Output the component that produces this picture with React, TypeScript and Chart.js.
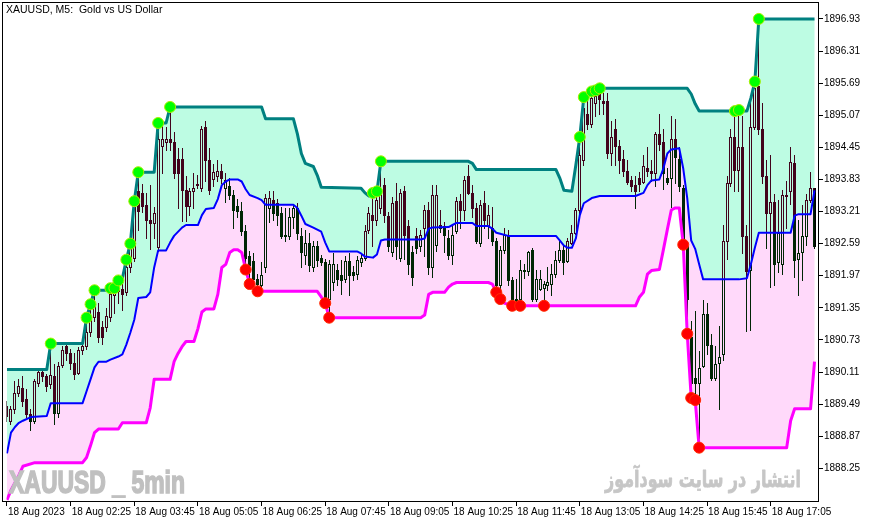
import React, { useEffect, useRef } from "react";
import { Chart, registerables } from "chart.js";

Chart.register(...registerables);

// ---------- data ----------
const candleOpen = [
  1889.46, 1889.17, 1889.40, 1889.70, 1889.80, 1889.59, 1889.30, 1889.17, 1889.90, 1890.12,
  1890.03, 1889.88, 1890.03, 1889.32, 1890.25, 1890.62, 1890.47, 1890.28, 1890.10, 1890.54,
  1890.62, 1890.89, 1891.18, 1891.27, 1890.98, 1890.98, 1891.18, 1891.60, 1891.68, 1891.71,
  1891.65, 1892.13, 1892.32, 1893.60, 1893.57, 1893.33, 1893.05, 1892.99, 1892.52, 1894.48,
  1894.55, 1894.62, 1894.55, 1894.23, 1894.23, 1893.62, 1893.32, 1893.60, 1893.74, 1893.66,
  1894.85, 1894.20, 1893.83, 1893.89, 1894.00, 1893.66, 1893.70, 1893.53, 1893.32, 1893.22,
  1892.84, 1892.36, 1892.26, 1891.90, 1891.79, 1892.13, 1893.28, 1893.43, 1893.37, 1893.18,
  1892.76, 1892.74, 1893.11, 1893.28, 1892.74, 1892.38, 1892.61, 1892.13, 1892.55, 1892.32,
  1892.23, 1891.52, 1891.84, 1892.09, 1891.99, 1891.90, 1892.26, 1892.04, 1892.00, 1892.23,
  1892.32, 1892.86, 1893.14, 1893.05, 1893.28, 1893.72, 1893.12, 1892.42, 1893.41, 1892.32,
  1893.60, 1892.93, 1892.42, 1892.74, 1892.55, 1892.90, 1893.24, 1892.13, 1892.57, 1892.95,
  1892.93, 1892.70, 1892.38, 1892.84, 1893.41, 1893.24, 1893.89, 1893.57, 1893.28, 1892.61,
  1893.37, 1892.93, 1892.90, 1892.65, 1891.79, 1892.46, 1892.76, 1891.88, 1891.50, 1891.52,
  1892.09, 1892.07, 1892.46, 1891.52, 1891.71, 1891.73, 1891.80, 1891.81, 1892.00, 1892.28,
  1892.46, 1892.26, 1892.61, 1892.80, 1893.24, 1894.20, 1895.10, 1894.90, 1895.30, 1895.50,
  1895.35, 1895.35, 1894.35, 1894.80, 1894.48, 1894.23, 1893.99, 1893.81, 1893.72, 1893.85,
  1893.79, 1894.05, 1893.99, 1893.95, 1894.71, 1894.55, 1893.85, 1893.85, 1894.62, 1894.23,
  1893.66, 1892.55, 1890.79, 1889.99, 1889.90, 1890.22, 1891.23, 1890.64, 1889.99, 1890.28,
  1890.45, 1892.65, 1893.76, 1894.65, 1894.01, 1894.46, 1892.74, 1892.09, 1894.85, 1895.63,
  1894.81, 1893.89, 1893.18, 1893.39, 1892.23, 1892.19, 1893.53, 1893.60, 1894.14, 1892.30,
  1892.42, 1892.74, 1893.43, 1893.66,
];
const candleHigh = [
  1889.55, 1889.46, 1889.93, 1889.97, 1890.03, 1889.78, 1889.40, 1889.97, 1890.16, 1890.16,
  1890.08, 1890.66, 1890.27, 1890.30, 1890.62, 1890.64, 1890.56, 1890.47, 1890.60, 1890.64,
  1891.16, 1891.42, 1891.69, 1891.45, 1891.10, 1891.35, 1891.73, 1891.73, 1891.88, 1891.85,
  1892.28, 1892.59, 1893.41, 1893.97, 1893.75, 1893.57, 1893.72, 1893.30, 1894.92, 1894.90,
  1894.85, 1895.23, 1894.75, 1894.43, 1894.43, 1893.90, 1893.66, 1893.95, 1893.91, 1894.87,
  1894.96, 1894.43, 1894.12, 1894.20, 1894.12, 1893.95, 1893.85, 1893.62, 1893.45, 1893.40,
  1892.95, 1892.45, 1892.40, 1892.00, 1892.23, 1893.55, 1893.60, 1893.60, 1893.45, 1893.30,
  1893.28, 1893.28, 1893.33, 1893.37, 1892.90, 1892.86, 1892.80, 1892.65, 1892.65, 1892.38,
  1892.30, 1892.28, 1892.40, 1892.20, 1892.28, 1892.35, 1892.40, 1892.15, 1892.35, 1892.40,
  1892.95, 1893.30, 1893.57, 1893.60, 1894.18, 1893.85, 1893.20, 1893.50, 1893.76, 1893.65,
  1893.70, 1893.05, 1892.55, 1892.90, 1892.85, 1893.33, 1893.40, 1893.72, 1893.72, 1893.24,
  1893.00, 1892.85, 1892.95, 1893.50, 1893.55, 1893.90, 1894.10, 1893.72, 1893.37, 1893.43,
  1893.60, 1893.33, 1893.30, 1892.70, 1892.55, 1892.90, 1892.85, 1891.95, 1891.90, 1892.28,
  1892.20, 1892.45, 1892.50, 1892.09, 1892.09, 1891.86, 1892.13, 1892.20, 1892.45, 1892.65,
  1892.57, 1892.70, 1892.95, 1893.28, 1894.65, 1895.42, 1895.45, 1895.53, 1895.55, 1895.59,
  1895.50, 1895.50, 1894.95, 1895.00, 1894.60, 1894.40, 1894.20, 1893.90, 1893.90, 1893.98,
  1894.30, 1894.45, 1894.20, 1894.75, 1895.10, 1894.80, 1894.05, 1895.05, 1895.00, 1894.45,
  1893.72, 1892.60, 1891.10, 1891.28, 1890.51, 1891.50, 1891.45, 1890.85, 1890.62, 1891.00,
  1892.95, 1893.90, 1894.80, 1895.15, 1895.17, 1895.05, 1892.95, 1895.40, 1895.72, 1896.93,
  1895.30, 1894.20, 1894.30, 1893.55, 1893.43, 1893.62, 1893.80, 1894.45, 1894.30, 1893.05,
  1893.33, 1893.55, 1893.98, 1893.66,
];
const candleLow = [
  1889.17, 1889.11, 1889.32, 1889.65, 1889.46, 1889.24, 1888.99, 1889.13, 1889.84, 1889.93,
  1889.74, 1889.80, 1889.11, 1889.24, 1890.20, 1890.35, 1890.16, 1889.97, 1890.08, 1890.45,
  1890.55, 1890.80, 1891.10, 1890.70, 1890.65, 1890.90, 1891.10, 1891.25, 1891.45, 1891.30,
  1891.60, 1892.05, 1892.25, 1892.85, 1893.20, 1892.70, 1892.48, 1892.70, 1892.45, 1893.95,
  1894.40, 1894.40, 1893.85, 1893.28, 1893.03, 1893.03, 1893.15, 1893.28, 1893.66, 1893.60,
  1893.80, 1893.55, 1893.70, 1893.80, 1893.76, 1893.40, 1893.45, 1892.90, 1893.10, 1892.75,
  1892.09, 1891.81, 1891.73, 1891.67, 1891.72, 1892.05, 1893.00, 1893.05, 1892.95, 1892.70,
  1892.64, 1892.68, 1892.90, 1892.68, 1892.13, 1892.19, 1892.07, 1892.07, 1892.15, 1892.17,
  1891.44, 1891.16, 1891.70, 1891.80, 1891.62, 1891.85, 1891.60, 1891.88, 1891.90, 1892.15,
  1892.28, 1892.80, 1892.55, 1892.95, 1893.18, 1893.00, 1892.45, 1892.35, 1892.30, 1892.25,
  1892.30, 1892.00, 1891.80, 1892.40, 1892.45, 1892.35, 1892.00, 1891.94, 1892.45, 1892.82,
  1892.42, 1892.30, 1892.20, 1892.80, 1892.90, 1893.05, 1893.55, 1893.10, 1892.60, 1892.55,
  1892.90, 1892.70, 1892.57, 1891.65, 1891.52, 1892.40, 1891.80, 1891.39, 1891.45, 1891.39,
  1891.93, 1891.99, 1891.48, 1891.48, 1891.70, 1891.39, 1891.70, 1891.60, 1891.95, 1892.24,
  1892.00, 1892.24, 1892.59, 1892.78, 1893.18, 1894.10, 1894.80, 1894.85, 1895.05, 1895.10,
  1895.10, 1894.25, 1894.10, 1894.10, 1893.95, 1893.90, 1893.75, 1893.60, 1893.28, 1893.60,
  1893.76, 1893.90, 1893.80, 1893.70, 1894.40, 1893.65, 1893.75, 1893.30, 1893.76, 1893.60,
  1892.57, 1890.85, 1889.61, 1889.57, 1888.65, 1890.20, 1890.45, 1889.95, 1889.95, 1889.40,
  1890.35, 1892.30, 1893.70, 1893.60, 1893.60, 1892.40, 1890.90, 1890.92, 1894.80, 1894.70,
  1893.76, 1892.50, 1891.75, 1891.80, 1892.05, 1892.00, 1892.90, 1893.35, 1891.95, 1891.60,
  1891.88, 1892.57, 1893.40, 1892.50,
];
const candleClose = [
  1889.26, 1889.40, 1889.70, 1889.84, 1889.55, 1889.30, 1889.17, 1889.93, 1890.12, 1890.03,
  1889.84, 1890.05, 1889.32, 1890.22, 1890.54, 1890.47, 1890.28, 1890.08, 1890.54, 1890.62,
  1890.89, 1891.20, 1891.40, 1890.79, 1890.79, 1891.20, 1891.62, 1891.68, 1891.72, 1891.62,
  1892.13, 1892.57, 1893.37, 1893.22, 1893.32, 1893.05, 1892.99, 1893.18, 1894.62, 1894.62,
  1894.62, 1894.55, 1893.95, 1893.95, 1893.62, 1893.32, 1893.60, 1893.66, 1893.72, 1894.81,
  1894.20, 1893.62, 1893.97, 1894.00, 1893.85, 1893.81, 1893.53, 1893.24, 1893.22, 1892.84,
  1892.32, 1892.17, 1891.90, 1891.81, 1891.98, 1893.47, 1893.47, 1893.18, 1893.14, 1892.74,
  1892.74, 1893.11, 1893.28, 1892.80, 1892.42, 1892.61, 1892.17, 1892.55, 1892.28, 1892.23,
  1891.50, 1892.19, 1892.19, 1891.90, 1891.88, 1892.26, 1891.99, 1891.98, 1892.28, 1892.32,
  1892.84, 1893.18, 1893.05, 1893.43, 1893.57, 1893.14, 1892.55, 1893.37, 1892.55, 1893.57,
  1892.76, 1892.19, 1891.94, 1892.51, 1892.76, 1893.24, 1892.13, 1893.53, 1893.53, 1892.90,
  1892.76, 1892.38, 1892.76, 1893.41, 1893.24, 1893.81, 1893.57, 1893.28, 1892.65, 1893.33,
  1893.05, 1893.14, 1892.65, 1891.79, 1892.46, 1892.76, 1891.88, 1891.50, 1891.52, 1892.09,
  1892.07, 1892.42, 1891.52, 1891.90, 1891.90, 1891.81, 1891.84, 1892.00, 1892.28, 1892.46,
  1892.23, 1892.65, 1892.80, 1893.24, 1894.30, 1895.20, 1894.90, 1895.40, 1895.45, 1895.38,
  1895.30, 1894.35, 1894.65, 1894.48, 1894.20, 1893.99, 1893.79, 1893.70, 1893.60, 1893.74,
  1894.08, 1893.99, 1893.95, 1894.71, 1894.52, 1893.95, 1893.79, 1894.62, 1894.27, 1893.70,
  1892.62, 1891.52, 1889.90, 1889.90, 1890.18, 1891.23, 1890.64, 1889.99, 1890.26, 1890.41,
  1892.65, 1893.76, 1894.65, 1894.01, 1894.46, 1892.74, 1892.07, 1894.85, 1895.60, 1894.81,
  1893.89, 1893.18, 1893.39, 1892.19, 1892.80, 1893.53, 1893.51, 1894.16, 1892.28, 1892.40,
  1892.74, 1893.43, 1893.66, 1892.55,
];

// channel lines: [bar index, price]
const upperLine = [
  [0, 1890.16], [10, 1890.16], [11, 1890.66], [19, 1890.66], [20, 1891.16], [21, 1891.42],
  [22, 1891.69], [25, 1891.69], [26, 1891.73], [27, 1891.73], [28, 1891.88], [29, 1891.92],
  [30, 1892.28], [31, 1892.59], [32, 1893.41], [33, 1893.97], [37, 1893.97], [38, 1894.92],
  [40, 1894.92], [41, 1895.23], [64, 1895.23], [65, 1895.0], [72, 1895.0], [73, 1894.71],
  [74, 1894.33], [75, 1894.14], [77, 1894.08], [78, 1893.91], [79, 1893.68], [89, 1893.66],
  [90, 1893.57], [91, 1893.51], [92, 1893.57], [93, 1893.6], [94, 1894.18], [116, 1894.18],
  [117, 1894.14], [118, 1894.02], [138, 1894.02], [139, 1893.85], [140, 1893.62], [142, 1893.6],
  [143, 1894.11], [144, 1894.65], [145, 1895.42], [146, 1895.48], [147, 1895.53], [148, 1895.55],
  [149, 1895.59], [171, 1895.59], [172, 1895.48], [173, 1895.29], [174, 1895.15], [186, 1895.15],
  [187, 1895.4], [188, 1895.72], [189, 1896.93], [203, 1896.93],
];
const middleLine = [
  [0, 1888.54], [1, 1888.94], [2, 1889.05], [3, 1889.13], [4, 1889.17], [6, 1889.24],
  [10, 1889.26], [11, 1889.51], [19, 1889.51], [20, 1889.74], [21, 1889.97], [22, 1890.2],
  [23, 1890.31], [25, 1890.31], [26, 1890.35], [28, 1890.41], [29, 1890.45], [30, 1890.64],
  [31, 1890.87], [32, 1891.12], [33, 1891.54], [35, 1891.56], [36, 1891.65], [37, 1892.13],
  [38, 1892.46], [40, 1892.46], [41, 1892.61], [42, 1892.74], [44, 1892.9], [45, 1892.95],
  [48, 1892.95], [49, 1893.14], [50, 1893.26], [52, 1893.28], [53, 1893.45], [54, 1893.72],
  [55, 1893.79], [56, 1893.83], [58, 1893.83], [59, 1893.79], [60, 1893.64], [61, 1893.53],
  [63, 1893.47], [64, 1893.43], [65, 1893.34], [72, 1893.34], [73, 1893.28], [74, 1893.13],
  [75, 1892.97], [77, 1892.9], [79, 1892.82], [80, 1892.61], [81, 1892.44], [88, 1892.44],
  [89, 1892.4], [90, 1892.34], [92, 1892.32], [93, 1892.38], [94, 1892.65], [95, 1892.67],
  [104, 1892.67], [105, 1892.69], [106, 1892.88], [107, 1892.9], [111, 1892.91], [112, 1892.95],
  [113, 1892.99], [117, 1892.99], [118, 1892.93], [121, 1892.93], [122, 1892.88], [123, 1892.8],
  [124, 1892.78], [126, 1892.74], [138, 1892.74], [139, 1892.65], [140, 1892.55], [141, 1892.51],
  [142, 1892.51], [143, 1892.69], [144, 1893.14], [145, 1893.37], [147, 1893.47], [149, 1893.51],
  [158, 1893.51], [160, 1893.57], [161, 1893.72], [162, 1893.81], [164, 1893.83], [165, 1894.04],
  [166, 1894.33], [167, 1894.41], [169, 1894.43], [170, 1894.04], [171, 1893.47], [172, 1892.65],
  [173, 1892.49], [174, 1892.19], [175, 1891.9], [184, 1891.9], [186, 1891.92], [187, 1892.19],
  [188, 1892.51], [189, 1892.8], [197, 1892.8], [198, 1893.13], [199, 1893.16], [202, 1893.16],
  [203, 1893.62],
];
const lowerLine = [
  [0, 1887.64], [1, 1887.83], [3, 1888.12], [4, 1888.29], [7, 1888.36], [19, 1888.36],
  [20, 1888.46], [21, 1888.69], [22, 1888.94], [23, 1889.01], [28, 1889.01], [29, 1889.13],
  [35, 1889.13], [36, 1889.42], [37, 1889.97], [41, 1889.97], [42, 1890.31], [43, 1890.47],
  [44, 1890.6], [45, 1890.7], [47, 1890.7], [48, 1890.95], [49, 1891.27], [50, 1891.33],
  [52, 1891.33], [53, 1891.61], [54, 1892.13], [55, 1892.19], [56, 1892.42], [57, 1892.47],
  [58, 1892.47], [59, 1892.42], [60, 1892.09], [61, 1891.81], [62, 1891.71], [63, 1891.67],
  [78, 1891.67], [79, 1891.56], [80, 1891.44], [81, 1891.16], [104, 1891.16], [105, 1891.21],
  [106, 1891.61], [107, 1891.65], [110, 1891.65], [111, 1891.75], [112, 1891.81], [113, 1891.84],
  [121, 1891.84], [122, 1891.81], [123, 1891.65], [124, 1891.52], [125, 1891.44], [127, 1891.39],
  [158, 1891.39], [159, 1891.56], [160, 1891.65], [161, 1892.0], [162, 1892.07], [164, 1892.09],
  [165, 1892.47], [166, 1892.86], [167, 1893.24], [168, 1893.28], [169, 1893.28], [170, 1892.57],
  [171, 1890.85], [172, 1889.61], [173, 1889.57], [174, 1888.65], [196, 1888.65], [197, 1889.17],
  [198, 1889.4], [202, 1889.4], [203, 1890.31],
];

// breakout markers: [bar index, price]
const highDots = [
  [11, 1890.66], [20, 1891.16], [21, 1891.42], [22, 1891.69], [26, 1891.73], [27, 1891.73],
  [28, 1891.88], [30, 1892.28], [31, 1892.59], [32, 1893.41], [33, 1893.97], [38, 1894.92],
  [41, 1895.23], [92, 1893.57], [93, 1893.6], [94, 1894.18], [144, 1894.65], [145, 1895.42],
  [147, 1895.53], [148, 1895.55], [149, 1895.59], [183, 1895.15], [184, 1895.17], [188, 1895.72],
  [189, 1896.93],
];
const lowDots = [
  [60, 1892.09], [61, 1891.81], [63, 1891.67], [80, 1891.44], [81, 1891.16], [123, 1891.65],
  [124, 1891.52], [127, 1891.39], [129, 1891.39], [135, 1891.39], [170, 1892.57], [171, 1890.85],
  [172, 1889.61], [173, 1889.57], [174, 1888.65],
];

const timeTickIdx = [0, 16, 32, 48, 64, 80, 96, 112, 128, 144, 160, 176, 192];
const timeTickLabels = [
  "18 Aug 2023", "18 Aug 02:25", "18 Aug 03:45", "18 Aug 05:05", "18 Aug 06:25",
  "18 Aug 07:45", "18 Aug 09:05", "18 Aug 10:25", "18 Aug 11:45", "18 Aug 13:05",
  "18 Aug 14:25", "18 Aug 15:45", "18 Aug 17:05",
];
const priceTicks = [
  1888.25, 1888.87, 1889.49, 1890.11, 1890.73, 1891.35, 1891.97, 1892.59,
  1893.21, 1893.83, 1894.45, 1895.07, 1895.69, 1896.31, 1896.93,
];

const titleText = "XAUUSD, M5:  Gold vs US Dollar";
const watermarkText = "XAUUSD _ 5min";
const siteText = "انتشار در سایت سودآموز";

const MINT = "rgb(189,252,227)";
const PINK = "rgb(255,217,250)";
const FONT = "'Liberation Sans', Arial, sans-serif";

const toXY = (pairs: number[][]) => pairs.map(([x, y]) => ({ x, y }));

export default function App() {
  const ref = useRef<HTMLCanvasElement | null>(null);

  useEffect(() => {
    document.body.style.margin = "0";
    const canvas = ref.current;
    if (!canvas) return;

    const bgPlugin = {
      id: "bg",
      beforeDraw(chart: any) {
        const c = chart.ctx;
        c.save();
        c.fillStyle = "#ffffff";
        c.fillRect(0, 0, chart.width, chart.height);
        c.restore();
      },
    };

    const bandPlugin = {
      id: "bandsAndCandles",
      beforeDatasetsDraw(chart: any) {
        const { ctx, chartArea: a, scales } = chart;
        const xs = scales.x;
        const ys = scales.y;
        ctx.save();
        ctx.beginPath();
        ctx.rect(a.left, a.top, a.right - a.left, a.bottom - a.top);
        ctx.clip();

        const band = (top: number[][], bot: number[][], color: string) => {
          ctx.beginPath();
          top.forEach(([i, v], k) => {
            const px = xs.getPixelForValue(i);
            const py = ys.getPixelForValue(v);
            if (k === 0) ctx.moveTo(px, py);
            else ctx.lineTo(px, py);
          });
          for (let k = bot.length - 1; k >= 0; k--) {
            ctx.lineTo(xs.getPixelForValue(bot[k][0]), ys.getPixelForValue(bot[k][1]));
          }
          ctx.closePath();
          ctx.fillStyle = color;
          ctx.fill();
        };
        band(upperLine, middleLine, MINT);
        band(middleLine, lowerLine, PINK);

        // candles, drawn inverted over the background
        ctx.globalCompositeOperation = "difference";
        ctx.fillStyle = "#ffffff";
        for (let i = 0; i < candleOpen.length; i++) {
          const o = candleOpen[i];
          const h = candleHigh[i];
          const l = candleLow[i];
          const c = candleClose[i];
          const px = Math.floor(xs.getPixelForValue(i));
          const yH = Math.round(ys.getPixelForValue(h));
          const yL = Math.round(ys.getPixelForValue(l));
          const yT = Math.round(ys.getPixelForValue(Math.max(o, c)));
          let yB = Math.round(ys.getPixelForValue(Math.min(o, c)));
          if (yB < yT) yB = yT;
          ctx.beginPath();
          if (yH < yT) ctx.rect(px, yH, 1, yT - yH);
          if (yL > yB) ctx.rect(px, yB + 1, 1, yL - yB);
          const bull = c > o;
          if (!bull || yB - yT < 2) {
            ctx.rect(px - 1, yT, 3, yB - yT + 1);
          } else {
            ctx.rect(px - 1, yT, 3, 1);
            ctx.rect(px - 1, yB, 3, 1);
            ctx.rect(px - 1, yT + 1, 1, yB - yT - 1);
            ctx.rect(px + 1, yT + 1, 1, yB - yT - 1);
          }
          ctx.fill();
        }
        ctx.restore();
      },
    };

    const textPlugin = {
      id: "texts",
      afterDraw(chart: any) {
        const ctx = chart.ctx;
        ctx.save();
        // frame
        ctx.strokeStyle = "#000";
        ctx.lineWidth = 1;
        ctx.strokeRect(2.5, 2.5, 816, 499);

        // title
        ctx.fillStyle = "#000";
        ctx.font = `10.5px ${FONT}`;
        ctx.textBaseline = "alphabetic";
        ctx.textAlign = "left";
        ctx.fillText(titleText, 6, 13);

        // watermark
        ctx.save();
        ctx.font = `bold 32px ${FONT}`;
        ctx.fillStyle = "#C0C0C0";
        ctx.strokeStyle = "#C0C0C0";
        ctx.lineJoin = "miter";
        const w1 = ctx.measureText(watermarkText).width;
        ctx.translate(9, 493);
        ctx.scale(176 / w1, 1);
        ctx.lineWidth = 1.6;
        ctx.strokeText(watermarkText, 0, 0);
        ctx.fillText(watermarkText, 0, 0);
        ctx.restore();

        // persian caption
        ctx.save();
        ctx.font = `bold 23px 'DejaVu Sans', sans-serif`;
        ctx.fillStyle = "#C6C6C6";
        ctx.strokeStyle = "#C6C6C6";
        ctx.lineJoin = "round";
        const w2 = ctx.measureText(siteText).width;
        ctx.translate(605, 487);
        ctx.scale(196 / w2, 1);
        ctx.lineWidth = 0.8;
        ctx.strokeText(siteText, 0, 0);
        ctx.fillText(siteText, 0, 0);
        ctx.restore();

        ctx.restore();
      },
    };

    const chart = new Chart(canvas, {
      type: "scatter",
      data: {
        datasets: [
          {
            label: "newHigh",
            data: toXY(highDots),
            showLine: false,
            pointRadius: 5.5,
            pointBackgroundColor: "#00ff00",
            pointBorderColor: "#a8f000",
            pointBorderWidth: 1,
            order: 0,
          },
          {
            label: "newLow",
            data: toXY(lowDots),
            showLine: false,
            pointRadius: 5.5,
            pointBackgroundColor: "#ff0000",
            pointBorderColor: "#ff2a00",
            pointBorderWidth: 1,
            order: 0,
          },
          {
            label: "upper",
            data: toXY(upperLine),
            showLine: true,
            borderColor: "#008080",
            borderWidth: 3,
            borderJoinStyle: "round",
            pointRadius: 0,
            fill: false,
            order: 2,
          },
          {
            label: "middle",
            data: toXY(middleLine),
            showLine: true,
            borderColor: "#0000ff",
            borderWidth: 2,
            borderJoinStyle: "round",
            pointRadius: 0,
            fill: false,
            order: 1,
          },
          {
            label: "lower",
            data: toXY(lowerLine),
            showLine: true,
            borderColor: "#ff00ff",
            borderWidth: 3,
            borderJoinStyle: "round",
            pointRadius: 0,
            fill: false,
            order: 2,
          },
        ],
      } as any,
      options: {
        responsive: false,
        animation: false,
        devicePixelRatio: 1,
        events: [],
        layout: { padding: { left: 2, top: 2, right: 0, bottom: 0 } },
        plugins: {
          legend: { display: false },
          tooltip: { enabled: false },
          title: { display: false },
        },
        scales: {
          x: {
            type: "linear",
            position: "bottom",
            min: -0.125,
            max: 203.875,
            bounds: "data",
            grid: {
              display: true,
              drawOnChartArea: false,
              drawTicks: true,
              tickLength: 5,
              color: "#000",
              lineWidth: 1,
            },
            border: { display: false },
            ticks: {
              autoSkip: false,
              maxRotation: 0,
              minRotation: 0,
              align: "start",
              labelOffset: 1,
              padding: 0,
              color: "#000",
              font: { family: FONT, size: 10 },
              callback: (v: any) => {
                const k = timeTickIdx.indexOf(Number(v));
                return k >= 0 ? timeTickLabels[k] : "";
              },
            },
            afterBuildTicks: (s: any) => {
              s.ticks = timeTickIdx.map((v) => ({ value: v }));
            },
            afterFit: (s: any) => {
              s.height = 21;
            },
          },
          y: {
            type: "linear",
            position: "right",
            min: 1887.62,
            max: 1897.16,
            bounds: "data",
            grid: {
              display: true,
              drawOnChartArea: false,
              drawTicks: true,
              tickLength: 5,
              color: "#000",
              lineWidth: 1,
            },
            border: { display: false },
            ticks: {
              autoSkip: false,
              padding: 1,
              color: "#000",
              font: { family: FONT, size: 10 },
              callback: (v: any) => Number(v).toFixed(2),
            },
            afterBuildTicks: (s: any) => {
              s.ticks = priceTicks.map((v) => ({ value: v }));
            },
            afterFit: (s: any) => {
              s.width = 53;
            },
          },
        },
      } as any,
      plugins: [bgPlugin, bandPlugin, textPlugin],
    });

    return () => chart.destroy();
  }, []);

  return (
    <canvas
      ref={ref}
      width={871}
      height={522}
      style={{ display: "block", width: 871, height: 522 }}
    />
  );
}
